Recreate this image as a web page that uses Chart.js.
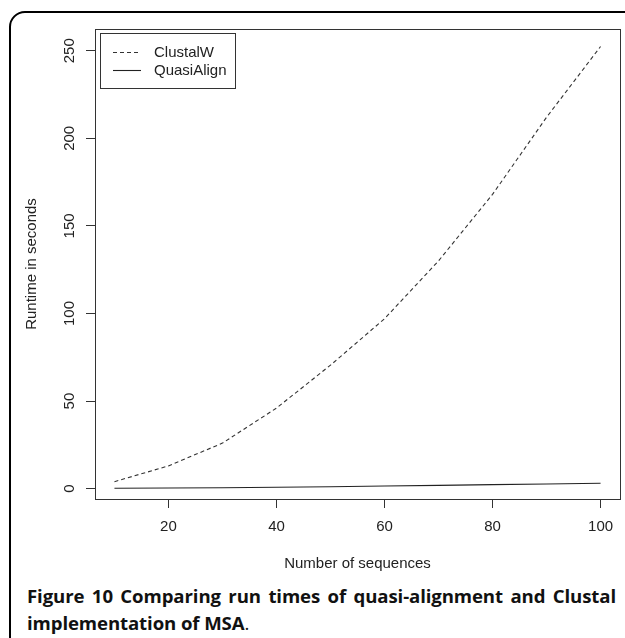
<!DOCTYPE html>
<html>
<head>
<meta charset="utf-8">
<script src="https://cdn.jsdelivr.net/npm/chart.js@4"></script>
<style>
html,body{margin:0;padding:0;background:#fff;width:625px;height:638px;overflow:hidden;}
#frame{position:absolute;left:9px;top:11px;width:700px;height:700px;border:2px solid #000;border-radius:16px;box-sizing:border-box;}
#wrap{position:absolute;left:0;top:0;width:625px;height:580px;}
#caption{position:absolute;left:27px;top:583px;width:589px;font-family:"Open Sans",sans-serif;font-size:18.6px;letter-spacing:-0.1px;line-height:26.5px;text-align:justify;color:#111;}
</style>
</head>
<body>
<div id="frame"></div>
<div id="wrap"><canvas id="c" width="625" height="580"></canvas></div>
<div id="caption"><b>Figure 10 Comparing run times of quasi-alignment and Clustal implementation of MSA</b>.</div>
<script>
const sequenceCounts = [10, 20, 30, 40, 50, 60, 70, 80, 90, 100];
const clustalWSeconds = [4.0, 13, 26, 46, 70.5, 97, 130, 168, 212, 252.4];
const quasiAlignSeconds = [0.2, 0.35, 0.5, 0.8, 1.1, 1.5, 1.9, 2.3, 2.7, 3.1];
const xTickValues = [20, 40, 60, 80, 100];
const yTickValues = [0, 50, 100, 150, 200, 250];
const seriesLabels = ['ClustalW', 'QuasiAlign'];
const xAxisTitle = 'Number of sequences';
const yAxisTitle = 'Runtime in seconds';

const axisFont = { family: '"Liberation Sans", Arial, sans-serif', size: 15 };
const inkColor = '#222';

function toPoints(values) {
  return sequenceCounts.map((x, i) => ({ x: x, y: values[i] }));
}

const framePlugin = {
  id: 'rframe',
  afterDraw(chart) {
    const ctx = chart.ctx;
    const a = chart.chartArea;
    ctx.save();
    ctx.strokeStyle = '#333';
    ctx.lineWidth = 1;
    ctx.setLineDash([]);
    ctx.strokeRect(Math.round(a.left) + 0.5, Math.round(a.top) + 0.5,
      Math.round(a.right - a.left), Math.round(a.bottom - a.top));
    // legend box
    const lx = Math.round(a.left) + 5.5, ly = Math.round(a.top) + 4.5;
    ctx.strokeRect(lx, ly, 135, 55);
    ctx.font = '15px "Liberation Sans", Arial, sans-serif';
    ctx.textBaseline = 'middle';
    ctx.textAlign = 'left';
    ctx.fillStyle = inkColor;
    chart.data.datasets.forEach((ds, i) => {
      const yy = Math.round(ly + 18 + i * 18.5) + 0.5;
      ctx.beginPath();
      ctx.strokeStyle = ds.borderColor;
      ctx.lineWidth = ds.borderWidth;
      ctx.setLineDash(ds.borderDash || []);
      ctx.moveTo(lx + 12.5, yy);
      ctx.lineTo(lx + 40.5, yy);
      ctx.stroke();
      ctx.setLineDash([]);
      ctx.fillText(ds.label, lx + 53.5, yy);
    });
    ctx.restore();
  }
};

const gridOpts = { display: true, drawOnChartArea: false, drawTicks: true, tickLength: 9, color: '#333', lineWidth: 1 };

new Chart(document.getElementById('c'), {
  type: 'line',
  data: {
    datasets: [
      { label: seriesLabels[0], data: toPoints(clustalWSeconds), borderColor: '#333', borderWidth: 1.1, borderDash: [4, 3], pointRadius: 0, tension: 0, fill: false },
      { label: seriesLabels[1], data: toPoints(quasiAlignSeconds), borderColor: '#222', borderWidth: 1.1, pointRadius: 0, tension: 0, fill: false }
    ]
  },
  options: {
    responsive: false,
    animation: false,
    devicePixelRatio: 1,
    layout: { padding: { top: 29, left: 0, right: 5, bottom: 0 } },
    plugins: { legend: { display: false }, tooltip: { enabled: false } },
    scales: {
      x: {
        type: 'linear', min: 6.4, max: 103.6,
        afterBuildTicks: s => { s.ticks = xTickValues.map(v => ({ value: v })); },
        afterFit: s => { s.height = 81; },
        border: { display: false },
        grid: gridOpts,
        ticks: { autoSkip: false, minRotation: 0, maxRotation: 0, padding: 10, font: axisFont, color: inkColor },
        title: { display: true, text: xAxisTitle, font: axisFont, color: inkColor, padding: { top: 0, bottom: 7 } }
      },
      y: {
        type: 'linear', min: -5.9, max: 262.4,
        afterBuildTicks: s => { s.ticks = yTickValues.map(v => ({ value: v })); },
        afterFit: s => { s.width = 95; },
        border: { display: false },
        grid: gridOpts,
        ticks: { autoSkip: false, minRotation: 90, maxRotation: 90, crossAlign: 'center', padding: 4, font: axisFont, color: inkColor },
        title: { display: true, text: yAxisTitle, font: axisFont, color: inkColor, padding: { top: 23, bottom: 0 } }
      }
    }
  },
  plugins: [framePlugin]
});
</script>
</body>
</html>
